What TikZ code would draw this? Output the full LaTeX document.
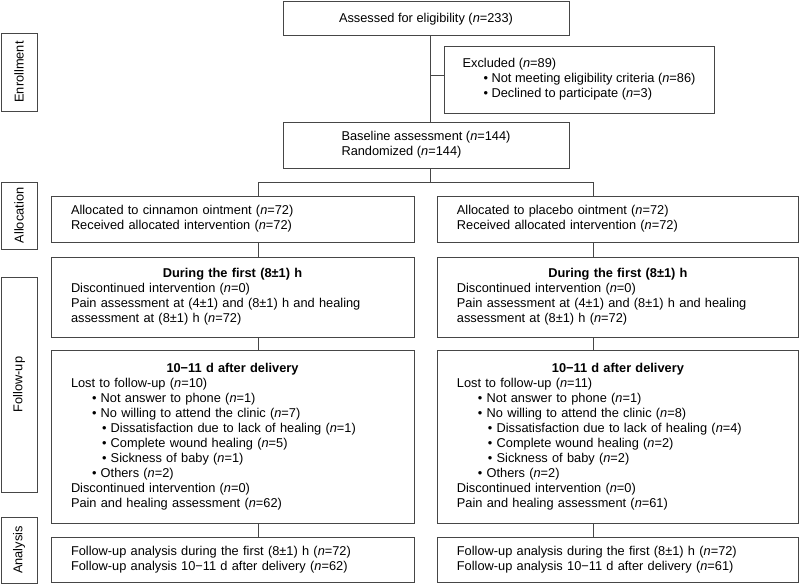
\documentclass[tikz,border=0pt]{standalone}
\usepackage{fontspec}
\setmainfont{Liberation Sans}
\newcommand\fsz{\fontsize{12.8pt}{15pt}\selectfont}
\newcommand\nn{\textit{n}}
\newcommand\bl{\hspace*{21pt}\textbullet\ }
\newcommand\bll{\hspace*{31pt}\textbullet\ }
\definecolor{linec}{RGB}{70,70,70}
\begin{document}
\begin{tikzpicture}[x=1pt,y=-1pt,
  box/.style={draw=linec, line width=0.9pt, inner sep=0pt, font=\fsz, align=left},
  colL/.style={box, minimum width=363pt, text width=323pt},
  colR/.style={box, minimum width=361.8pt, text width=322pt},
  lab/.style={box, align=center, minimum height=36pt, rotate=90},
  conn/.style={draw=linec, line width=0.9pt}]
\useasboundingbox (0,0) rectangle (800,585);
% phase labels
\node[lab, minimum width=78pt] (enr) at (19,72) {Enrollment};
\node[lab, minimum width=67pt] (alo) at (19,215.5) {Allocation};
\node[lab, minimum width=215pt] (fol) at (19,384.5) {Follow-up};
\node[lab, minimum width=66pt] (ana) at (19,550) {Analysis};
% enrollment
\node[box, align=center, minimum width=286pt, minimum height=34.5pt] (top) at (426,18.7) {Assessed for eligibility (\nn=233)};
\node[box, minimum width=270pt, minimum height=67pt] (excl) at (579,79.5)
  {Excluded (\nn=89)\\
   \bl Not meeting eligibility criteria (\nn=86)\\
   \bl Declined to participate (\nn=3)};
\node[box, minimum width=286pt, minimum height=46pt] (base) at (426,145)
  {Baseline assessment (\nn=144)\\Randomized (\nn=144)};
% left column
\node[colL, minimum height=46pt] (allocL) at (232.5,219)
  {Allocated to cinnamon ointment (\nn=72)\\Received allocated intervention (\nn=72)};
\node[colL, minimum height=80pt] (firstL) at (232.5,297)
  {\makebox[323pt][c]{\bfseries During the first (8±1) h}\\
   Discontinued intervention (\nn=0)\\
   Pain assessment at (4±1) and (8±1) h and healing\\
   assessment at (8±1) h (\nn=72)};
\node[colL, minimum height=173pt] (dayL) at (232.5,436.5)
  {\makebox[323pt][c]{\bfseries 10−11 d after delivery}\\
   Lost to follow-up (\nn=10)\\
   \bl Not answer to phone (\nn=1)\\
   \bl No willing to attend the clinic (\nn=7)\\
   \bll Dissatisfaction due to lack of healing (\nn=1)\\
   \bll Complete wound healing (\nn=5)\\
   \bll Sickness of baby (\nn=1)\\
   \bl Others (\nn=2)\\
   Discontinued intervention (\nn=0)\\
   Pain and healing assessment (\nn=62)};
\node[colL, minimum height=45pt] (anaL) at (232.5,559.5)
  {Follow-up analysis during the first (8±1) h (\nn=72)\\
   Follow-up analysis 10−11 d after delivery (\nn=62)};
% right column
\node[colR, minimum height=46pt] (allocR) at (617.9,219)
  {Allocated to placebo ointment (\nn=72)\\Received allocated intervention (\nn=72)};
\node[colR, minimum height=80pt] (firstR) at (617.9,297)
  {\makebox[322pt][c]{\bfseries During the first (8±1) h}\\
   Discontinued intervention (\nn=0)\\
   Pain assessment at (4±1) and (8±1) h and healing\\
   assessment at (8±1) h (\nn=72)};
\node[colR, minimum height=173pt] (dayR) at (617.9,436.5)
  {\makebox[322pt][c]{\bfseries 10−11 d after delivery}\\
   Lost to follow-up (\nn=11)\\
   \bl Not answer to phone (\nn=1)\\
   \bl No willing to attend the clinic (\nn=8)\\
   \bll Dissatisfaction due to lack of healing (\nn=4)\\
   \bll Complete wound healing (\nn=2)\\
   \bll Sickness of baby (\nn=2)\\
   \bl Others (\nn=2)\\
   Discontinued intervention (\nn=0)\\
   Pain and healing assessment (\nn=61)};
\node[colR, minimum height=45pt] (anaR) at (617.9,559.5)
  {Follow-up analysis during the first (8±1) h (\nn=72)\\
   Follow-up analysis 10−11 d after delivery (\nn=61)};
% connectors
\coordinate (trunk) at (430,0);
\coordinate (branch) at (430,75);
\coordinate (split) at (430,182);
\coordinate (xL) at (258,0);
\coordinate (xR) at (593,0);
\draw[conn] (top.south -| trunk) -- (base.north -| trunk);
\draw[conn] (branch) -- (branch -| excl.west);
\draw[conn] (base.south -| trunk) -- (split);
\draw[conn] (allocL.north -| xL) -- (xL |- split) -- (xR |- split) -- (allocR.north -| xR);
\draw[conn] (allocL.south -| xL) -- (firstL.north -| xL);
\draw[conn] (firstL.south -| xL) -- (dayL.north -| xL);
\draw[conn] (dayL.south -| xL) -- (anaL.north -| xL);
\draw[conn] (allocR.south -| xR) -- (firstR.north -| xR);
\draw[conn] (firstR.south -| xR) -- (dayR.north -| xR);
\draw[conn] (dayR.south -| xR) -- (anaR.north -| xR);
\end{tikzpicture}
\end{document}
